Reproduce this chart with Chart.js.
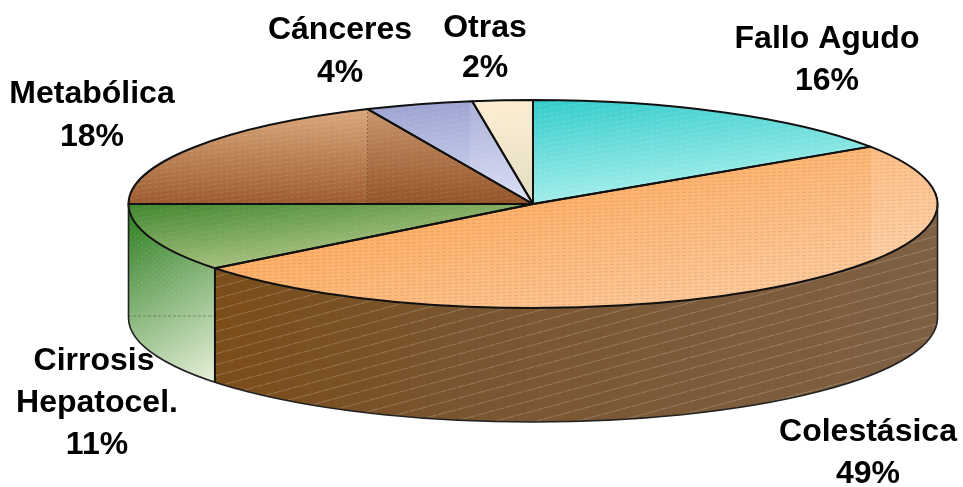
<!DOCTYPE html>
<html><head><meta charset="utf-8">
<style>html,body{margin:0;padding:0;background:#fff;overflow:hidden}#w{width:963px;height:487px;position:relative}</style>
<script src="https://cdn.jsdelivr.net/npm/chart.js@4"></script>
</head><body><div id="w"><canvas id="c" width="963" height="487"></canvas></div>
<script>
// --- data ---
const categories = ['Fallo Agudo','Colestásica','Cirrosis Hepatocel.','Metabólica','Cánceres','Otras'];
const values = [15.7, 48.7, 10.6, 18.3, 4.3, 2.4];
const labelLines = [['Fallo Agudo'],['Colestásica'],['Cirrosis','Hepatocel.'],['Metabólica'],['Cánceres'],['Otras']];

// --- look ---
const CX=533, CY=204, RX=404.5, RY=104, DEPTH=114;
const PAD_LEFT=103, PAD_BOTTOM=79;
const labelAnchors = [[827,[39.5,81.5]],[868,[432,474]],[96,[361,403,445]],[92,[94,137]],[340,[30.5,73]],[485,[28.5,68.5]]];
const labelLineX = {2:[94,97,97]};
const topGrad = [
  [[545,100],[730,220],['#33cccc','#c8f9f4']],
  [[300,210],[760,330],['#ffa95a','#ffd0a6']],
  [[140,190],[270,260],['#2f7d22','#a4bf7c']],
  [[300,110],[300,205],['#d9a77b','#9c5a2d']],
  [[380,100],[500,205],['#9aa0cf','#d6dcf6']],
  [[475,105],[535,205],['#fdeed2','#e2dcc0']]
];
function toLocal(chart,x,y){
  const r=(chart.height-PAD_BOTTOM)/2;
  return [CX+(x-CX)*r/RX, CY+(y-CY)*r/RY];
}
function gradient(chart,g){
  const p=toLocal(chart,g[0][0],g[0][1]), q=toLocal(chart,g[1][0],g[1][1]);
  const l=chart.ctx.createLinearGradient(p[0],p[1],q[0],q[1]);
  l.addColorStop(0,g[2][0]); l.addColorStop(1,g[2][1]);
  return l;
}
function hatch(ctx,slope,step,color,dash,w){
  ctx.strokeStyle=color; ctx.lineWidth=w||1; ctx.setLineDash(dash||[]);
  ctx.beginPath();
  for(let y=0;y<900;y+=step){ ctx.moveTo(100,y); ctx.lineTo(960,y+slope*860); }
  ctx.stroke(); ctx.setLineDash([]);
}
function topPath(ctx,e){
  ctx.beginPath(); ctx.moveTo(CX,CY);
  ctx.ellipse(CX,CY,RX,RY,0,e.startAngle,e.endAngle); ctx.closePath();
}
function wallPath(ctx,a0,a1){
  ctx.beginPath();
  ctx.ellipse(CX,CY,RX,RY,0,a0,a1);
  ctx.ellipse(CX,CY+DEPTH,RX,RY,0,a1,a0,true);
  ctx.closePath();
}
const pie3d={
  id:'pie3d',
  beforeDatasetsDraw(chart){
    const ctx=chart.ctx, arcs=chart.getDatasetMeta(0).data;
    // side walls for the front half of the disc
    arcs.forEach((e,i)=>{
      const a0=Math.max(norm(e.startAngle),0), a1=Math.min(norm(e.startAngle)+(e.endAngle-e.startAngle),Math.PI);
      if(a1<=a0) return;
      ctx.save(); wallPath(ctx,a0,a1);
      let l;
      if(i===1){ l=ctx.createLinearGradient(215,0,937,0); l.addColorStop(0,'#7b4d19'); l.addColorStop(.35,'#7a5530'); l.addColorStop(1,'#7f6043'); }
      else { l=ctx.createLinearGradient(128,215,225,375); l.addColorStop(0,'#2f7f22'); l.addColorStop(1,'#e6f0d9'); }
      ctx.fillStyle=l; ctx.fill(); ctx.clip();
      if(i===1) hatch(ctx,-0.27,11,'rgba(255,255,255,.22)',[9,1]);
      else { hatch(ctx,-0.9,5,'rgba(255,255,255,.14)',[3,2]);
        ctx.strokeStyle='rgba(90,100,60,.6)'; ctx.setLineDash([3,2]); ctx.beginPath(); ctx.moveTo(128,316); ctx.lineTo(215,316); ctx.stroke(); ctx.setLineDash([]); }
      ctx.restore();
    });
    // flatten the disc that the library draws
    const e=arcs[0];
    ctx.save();
    ctx.translate(CX,CY); ctx.scale(RX/e.outerRadius,RY/e.outerRadius); ctx.translate(-e.x,-e.y);
  },
  afterDatasetsDraw(chart){
    const ctx=chart.ctx, arcs=chart.getDatasetMeta(0).data;
    ctx.restore();
    // surface texture
    const tex=[['rgba(255,255,255,.16)',-0.17,5],['rgba(130,110,90,.22)',-0.03,3.5],['rgba(255,255,255,.08)',-0.17,5],['rgba(255,255,255,.13)',-0.12,4.5],['rgba(255,255,255,.12)',-0.17,5],['rgba(255,255,255,.1)',-0.6,6]];
    arcs.forEach((e,i)=>{
      ctx.save(); topPath(ctx,e); ctx.clip();
      hatch(ctx,tex[i][1],tex[i][2],tex[i][0],[4,2]);
      ctx.restore();
    });
    // darker band of the brown slice, and faint seams
    ctx.save(); topPath(ctx,arcs[3]); ctx.clip();
    ctx.fillStyle='rgba(90,30,0,.13)'; ctx.fillRect(368,90,200,130);
    ctx.strokeStyle='rgba(90,70,50,.55)'; ctx.setLineDash([2,2]); ctx.beginPath(); ctx.moveTo(367.5,100); ctx.lineTo(367.5,204); ctx.stroke();
    ctx.restore();
    ctx.save(); topPath(ctx,arcs[4]); ctx.clip();
    ctx.fillStyle='rgba(255,255,255,.12)'; ctx.fillRect(470,90,80,130);
    ctx.restore();
    ctx.save(); topPath(ctx,arcs[1]); ctx.clip();
    ctx.fillStyle='rgba(255,255,255,.12)'; ctx.fillRect(871,100,80,220);
    ctx.restore();
    // outlines
    ctx.strokeStyle='#111'; ctx.lineWidth=2; ctx.lineJoin='round';
    arcs.forEach(e=>{ topPath(ctx,e); ctx.stroke();
      const a=norm(e.endAngle);
      if(a>0&&a<Math.PI){ const x=CX+RX*Math.cos(a), y=CY+RY*Math.sin(a);
        ctx.beginPath(); ctx.moveTo(x,y); ctx.lineTo(x,y+DEPTH); ctx.stroke(); }
    });
    ctx.lineWidth=1.6; ctx.strokeStyle='#222';
    ctx.beginPath(); ctx.moveTo(CX-RX,CY); ctx.lineTo(CX-RX,CY+DEPTH);
    ctx.ellipse(CX,CY+DEPTH,RX,RY,0,Math.PI,0,true); ctx.lineTo(CX+RX,CY); ctx.stroke();
    // labels
    ctx.fillStyle='#000'; ctx.font='bold 32px "Liberation Sans",Arial,sans-serif'; ctx.textAlign='center'; ctx.textBaseline='middle';
    categories.forEach((c,i)=>{
      const lines=labelLines[i].concat(Math.round(values[i])+'%'), a=labelAnchors[i];
      lines.forEach((t,k)=>ctx.fillText(t,labelLineX[i]?labelLineX[i][k]:a[0],a[1][k]));
    });
  }
};
function norm(a){ const t=2*Math.PI; a=((a%t)+t)%t; return a>1.5*Math.PI+1e-6?a-t:a; }
new Chart(document.getElementById('c'),{
  type:'pie',
  data:{labels:categories,datasets:[{data:values,borderWidth:0,clip:false,
    backgroundColor:ctx=>gradient(ctx.chart,topGrad[ctx.dataIndex])}]},
  options:{responsive:false,animation:false,layout:{padding:{left:PAD_LEFT,right:0,top:0,bottom:PAD_BOTTOM}},
    plugins:{legend:{display:false},tooltip:{enabled:false}}},
  plugins:[pie3d]
});
</script></body></html>
